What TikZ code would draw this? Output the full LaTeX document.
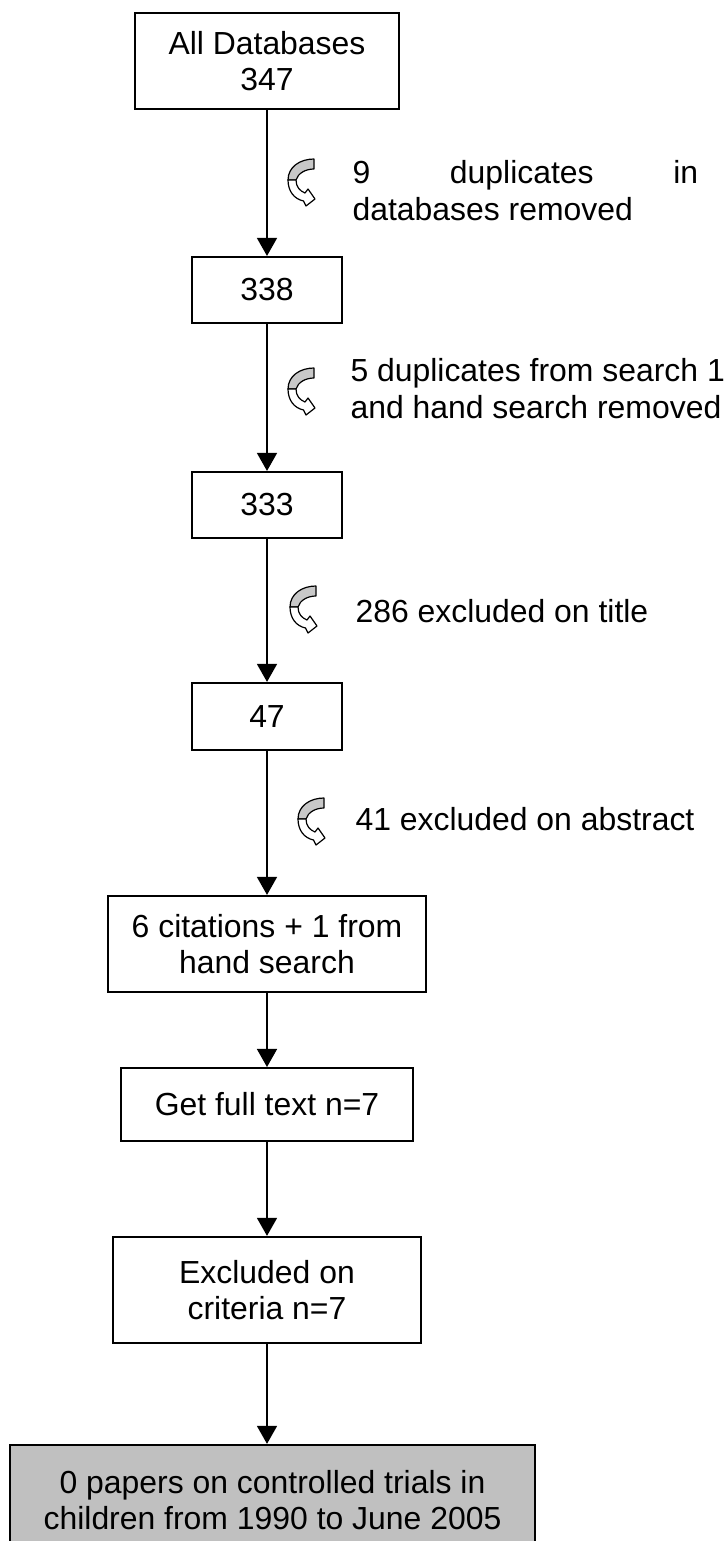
\documentclass[tikz,border=0pt]{standalone}
\usepackage{fontspec}
\setmainfont{Liberation Sans}
\usetikzlibrary{arrows.meta}
\definecolor{bandgray}{HTML}{C8C8C8}
\definecolor{resultgray}{HTML}{C0C0C0}
\tikzset{
  stagebox/.style={draw, line width=0.8pt, align=center, inner sep=2pt,
    font=\fontsize{12pt}{13.8pt}\selectfont},
  sidenote/.style={inner sep=0pt, align=left, font=\fontsize{12pt}{13.8pt}\selectfont},
  flow/.style={-{Triangle[width=7.5pt,length=6.8pt]}, line width=0.75pt},
  iconline/.style={line width=0.45pt, line join=round},
  % small curved "removed" arrow drawn beside a flow arrow
  turnarrow/.pic={
    \draw[iconline, fill=bandgray] (26,0) -- (26,10)
      .. controls (18,10) and (10,14) .. (8,21) -- (0,21)
      .. controls (0,8) and (12,0) .. (26,0) -- cycle;
    \draw[iconline, fill=white] (0,21) -- (8,21)
      .. controls (8,28) and (12,32) .. (17,34) -- (20,30) -- (27,40)
      -- (18,47) -- (15.5,42)
      .. controls (6,40) and (0,32) .. (0,21) -- cycle;
  }
}
\begin{document}
\begin{tikzpicture}[x=0.376pt, y=-0.376pt]
\useasboundingbox (0,0) rectangle (726,1541);

% stages of the search
\node[stagebox, minimum width=99.3pt, minimum height=36.1pt] (all) at (267,61) {All Databases\\347};
\node[stagebox, minimum width=56.4pt, minimum height=24.8pt] (n338) at (267,290) {338};
\node[stagebox, minimum width=56.4pt, minimum height=24.8pt] (n333) at (267,505) {333};
\node[stagebox, minimum width=56.4pt, minimum height=25.2pt] (n47) at (267,716.5) {47};
\node[stagebox, minimum width=119.6pt, minimum height=36.1pt] (cit) at (267,944) {6 citations + 1 from\\hand search};
\node[stagebox, minimum width=109.8pt, minimum height=27.4pt] (full) at (267,1104.5) {Get full text n=7};
\node[stagebox, minimum width=115.8pt, minimum height=39.9pt] (excl) at (267,1290) {Excluded on\\criteria n=7};
\node[stagebox, fill=resultgray, minimum width=197.4pt, minimum height=41.4pt] (result) at (272.5,1500)
  {0 papers on controlled trials in\\children from 1990 to June 2005};

% connectors
\draw[flow] (all.south) -- (all.south |- n338.north);
\draw[flow] (n338.south) -- (n333.north);
\draw[flow] (n333.south) -- (n47.north);
\draw[flow] (n47.south) -- (cit.north);
\draw[flow] (cit.south) -- (full.north);
\draw[flow] (full.south) -- (excl.north);
\draw[flow] (excl.south) -- (excl.south |- result.north);

% removals
\pic at (288,159) {turnarrow};
\node[sidenote, anchor=north west] (rm1) at (352,160)
  {\makebox[130pt][s]{9 duplicates in}\\databases removed};

\pic at (288,368) {turnarrow};
\node[sidenote, anchor=north west] (rm2) at (350,358)
  {5 duplicates from search 1\\and hand search removed};

\pic at (290,586) {turnarrow};
\node[sidenote, anchor=base west] (rm3) at (355,622) {286 excluded on title};

\pic at (298,798) {turnarrow};
\node[sidenote, anchor=base west] (rm4) at (355,830) {41 excluded on abstract};
\end{tikzpicture}
\end{document}
